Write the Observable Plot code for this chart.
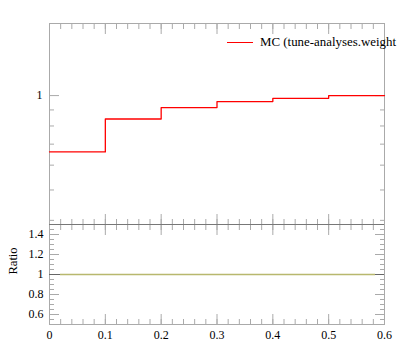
<!DOCTYPE html>
<html><head><meta charset="utf-8">
<script src="https://cdn.jsdelivr.net/npm/d3@7"></script>
<script src="https://cdn.jsdelivr.net/npm/@observablehq/plot@0.6"></script>
<style>
body{margin:0;overflow:hidden;background:#fff;}
#wrap{position:relative;width:397px;height:358px;overflow:hidden;font-family:"Liberation Serif","DejaVu Serif",serif;}
#main,#ratio{position:absolute;left:0;}
#main{top:0;}
#ratio{top:223px;}
#legend{position:absolute;left:227px;top:35px;white-space:nowrap;font-size:12.9px;display:flex;align-items:center;color:#000;}
#legend .sw{display:inline-block;width:26px;height:0;border-top:1.3px solid #ff0000;margin-right:7px;}
</style></head><body>
<div id="wrap"><div id="main"></div><div id="ratio"></div><div id="legend"><span class="sw"></span><span id="legtext"></span></div></div>
<script>
// ---- data ----
const binEdges = [0, 0.1, 0.2, 0.3, 0.4, 0.5, 0.6];
const mcValues = [0.661, 0.842, 0.916, 0.957, 0.980, 1.0];
const ratioValues = [1, 1, 1, 1, 1, 1];
const legendLabel = "MC (tune-analyses.weight";
const ratioLabel = "Ratio";
const mainYDomain = [0.388, 1.698];
const ratioDomain = [0.5, 1.5];
const mainYMajor = [1];
const mainYMinor = [0.4, 0.5, 0.6, 0.7, 0.8, 0.9];
const ratioYMajor = [0.6, 0.8, 1, 1.2, 1.4];
const ratioYMinor = [0.5,0.55,0.6,0.65,0.7,0.75,0.8,0.85,0.9,0.95,1,1.05,1.1,1.15,1.2,1.25,1.3,1.35,1.4,1.45,1.5];
const xMajor = [0, 0.1, 0.2, 0.3, 0.4, 0.5, 0.6];
const xMinor = [0,0.02,0.04,0.06,0.08,0.1,0.12,0.14,0.16,0.18,0.2,0.22,0.24,0.26,0.28,0.3,0.32,0.34,0.36,0.38,0.4,0.42,0.44,0.46,0.48,0.5,0.52,0.54,0.56,0.58,0.6];

document.getElementById("legtext").textContent = legendLabel;

const mcPts = binEdges.map((x, i) => ({x, y: mcValues[Math.min(i, mcValues.length - 1)]}));
const ratioPts = binEdges.map((x, i) => ({x, y: ratioValues[Math.min(i, ratioValues.length - 1)]}));

const fmt = d3.format("~g");
const tickColor = "#aaa";
const baseStyle = {fontFamily: "'Liberation Serif', 'DejaVu Serif', serif", fontSize: "12px", background: "transparent", color: "#000"};

const xTicks = (anchor) => [
  Plot.axisX(xMajor, {anchor, tickSize: -10, text: null, label: null, stroke: tickColor}),
  Plot.axisX(xMinor, {anchor, tickSize: -5, text: null, label: null, stroke: tickColor})
];

const main = Plot.plot({
  width: 397, height: 225,
  marginTop: 23, marginBottom: 1, marginLeft: 49, marginRight: 13,
  style: baseStyle,
  x: {domain: [binEdges[0], binEdges[binEdges.length - 1]]},
  y: {type: "log", domain: mainYDomain},
  marks: [
    ...xTicks("top"),
    ...xTicks("bottom"),
    Plot.axisY(mainYMajor, {anchor: "left", tickSize: -10, text: null, label: null, stroke: tickColor}),
    Plot.axisY(mainYMinor, {anchor: "left", tickSize: -5, text: null, label: null, stroke: tickColor}),
    Plot.axisY(mainYMajor, {anchor: "right", tickSize: -10, text: null, label: null, stroke: tickColor}),
    Plot.axisY(mainYMinor, {anchor: "right", tickSize: -5, text: null, label: null, stroke: tickColor}),
    Plot.axisY(mainYMajor, {anchor: "left", tickSize: 0, tickPadding: 7, tickFormat: fmt, label: null, fill: "#000"}),
    Plot.frame({stroke: tickColor}),
    Plot.line(mcPts, {x: "x", y: "y", curve: "step-after", stroke: "#ff0000", strokeWidth: 1.3})
  ]
});
document.getElementById("main").append(main);

const ratio = Plot.plot({
  width: 397, height: 135,
  marginTop: 1, marginBottom: 34, marginLeft: 49, marginRight: 13,
  style: baseStyle,
  x: {domain: [binEdges[0], binEdges[binEdges.length - 1]]},
  y: {domain: ratioDomain},
  marks: [
    ...xTicks("top"),
    ...xTicks("bottom"),
    Plot.axisY(ratioYMajor, {anchor: "left", tickSize: -10, text: null, label: null, stroke: tickColor}),
    Plot.axisY(ratioYMinor, {anchor: "left", tickSize: -5, text: null, label: null, stroke: tickColor}),
    Plot.axisY(ratioYMajor, {anchor: "right", tickSize: -10, text: null, label: null, stroke: tickColor}),
    Plot.axisY(ratioYMinor, {anchor: "right", tickSize: -5, text: null, label: null, stroke: tickColor}),
    Plot.axisY(ratioYMajor, {anchor: "left", tickSize: 0, tickPadding: 6, tickFormat: fmt, label: null, fill: "#000"}),
    Plot.axisX(xMajor, {anchor: "bottom", tickSize: 0, tickPadding: 6, tickFormat: fmt, label: null, fill: "#000"}),
    Plot.frame({stroke: tickColor}),
    Plot.ruleY([ratioDomain[1]], {stroke: "#777"}),
    Plot.ruleY([1], {stroke: "#666", strokeWidth: 1.2}),
    Plot.ruleY([ratioValues[0]], {stroke: "#b8b86e", strokeWidth: 1.3, insetLeft: 11, insetRight: 9}),
    Plot.text([ratioLabel], {frameAnchor: "left", dx: -37, rotate: -90, fontSize: 12.5, fill: "#000"})
  ]
});
document.getElementById("ratio").append(ratio);
</script>
</body></html>
